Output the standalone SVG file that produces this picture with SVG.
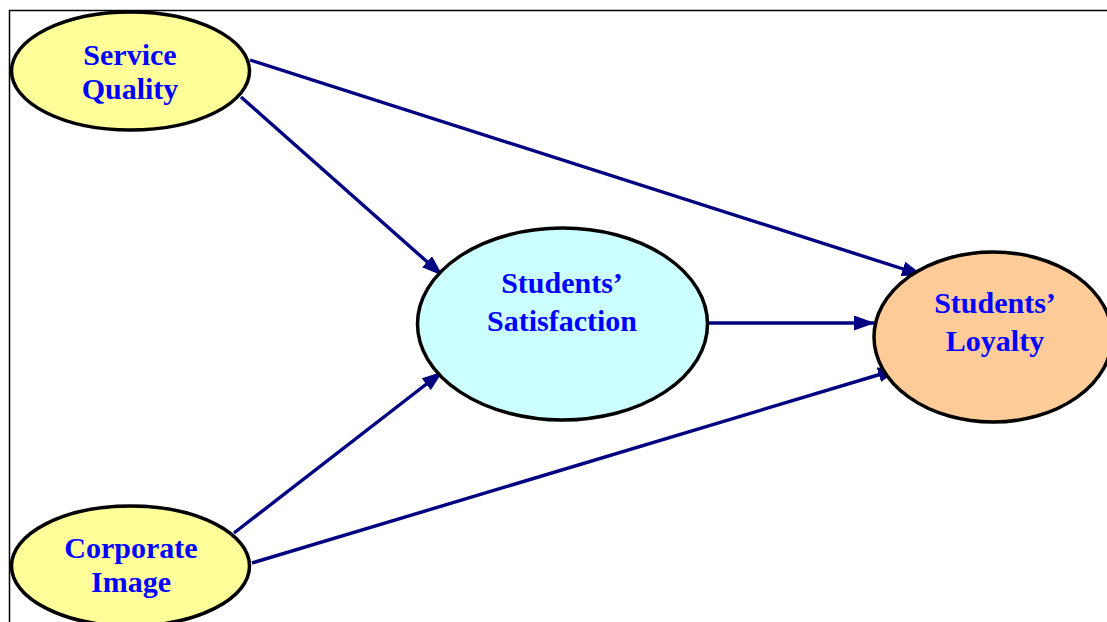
<svg xmlns="http://www.w3.org/2000/svg" width="1107" height="622" viewBox="0 0 1107 622">
<style>
.node{stroke:#000;stroke-width:3.5}
.lbl{font-family:"Liberation Serif","Times New Roman",serif;font-weight:bold;font-size:30px;fill:#0000FF;text-anchor:middle}
.conn{stroke:#000080;stroke-width:3.4;fill:none;marker-end:url(#ah)}
</style>
<defs>
<marker id="ah" markerUnits="userSpaceOnUse" markerWidth="21" markerHeight="15" refX="20" refY="7.5" orient="auto">
<path d="M0,0 L21,7.5 L0,15 Z" fill="#000080"/>
</marker>
</defs>
<rect x="0" y="0" width="1107" height="622" fill="#fff"/>
<path d="M9.5,622 V10.5 H1107" fill="none" stroke="#000" stroke-width="1.5"/>
<g id="connectors">
<line class="conn" x1="250" y1="60" x2="922" y2="275"/>
<line class="conn" x1="241" y1="97" x2="442" y2="275"/>
<line class="conn" x1="234" y1="533" x2="442" y2="372"/>
<line class="conn" x1="252" y1="563" x2="898" y2="369"/>
<line class="conn" x1="708" y1="323" x2="874" y2="323"/>
</g>
<g id="service-quality">
<ellipse class="node" cx="130.5" cy="71" rx="119" ry="59" fill="#FFFF99"/>
<text class="lbl" x="130" y="65">Service</text>
<text class="lbl" x="130" y="99">Quality</text>
</g>
<g id="corporate-image">
<ellipse class="node" cx="130.5" cy="566" rx="119" ry="60" fill="#FFFF99"/>
<text class="lbl" x="131" y="558">Corporate</text>
<text class="lbl" x="131" y="592">Image</text>
</g>
<g id="students-satisfaction">
<ellipse class="node" cx="562.5" cy="324" rx="145" ry="96" fill="#CCFFFF"/>
<text class="lbl" x="562" y="293">Students’</text>
<text class="lbl" x="562" y="331">Satisfaction</text>
</g>
<g id="students-loyalty">
<ellipse class="node" cx="993" cy="337" rx="119" ry="85" fill="#FFCC99"/>
<text class="lbl" x="995" y="313">Students’</text>
<text class="lbl" x="995" y="351">Loyalty</text>
</g>
</svg>
